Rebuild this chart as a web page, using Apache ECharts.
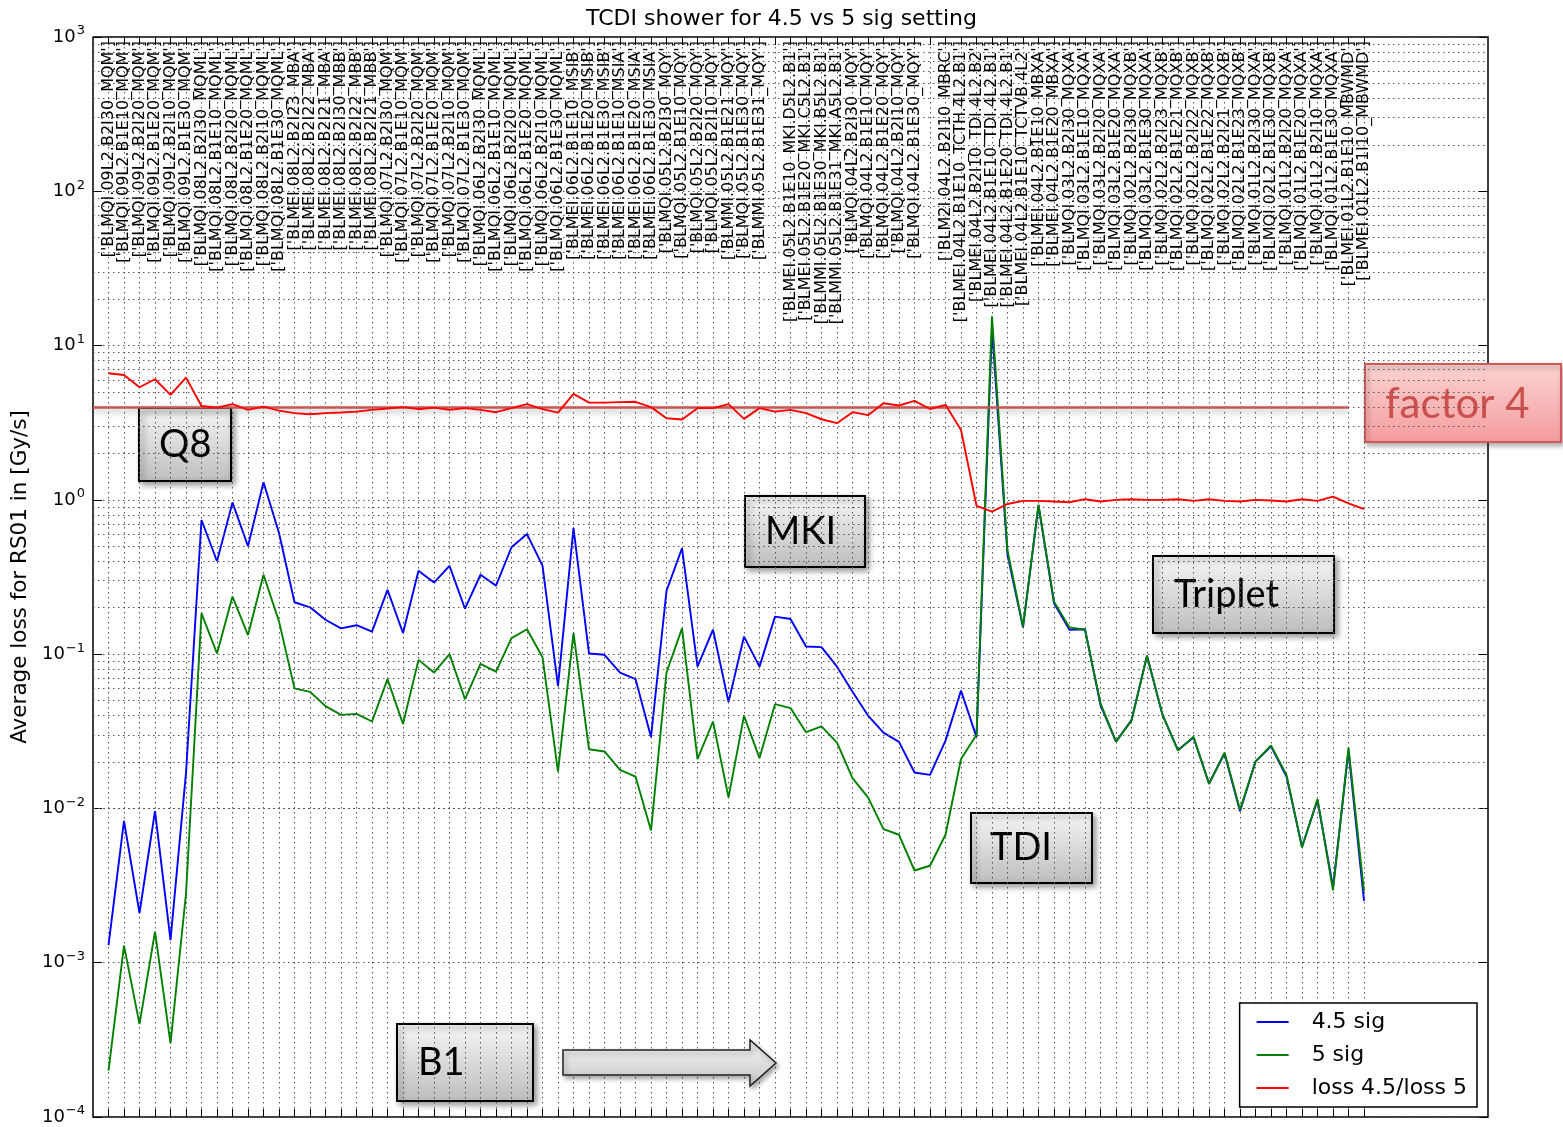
<!DOCTYPE html>
<html>
<head>
<meta charset="utf-8">
<title>TCDI shower for 4.5 vs 5 sig setting</title>
<script src="https://cdn.jsdelivr.net/npm/echarts@6/dist/echarts.min.js"></script>
<style>
  html, body { margin: 0; padding: 0; background: #fff; }
  #chart-container { width: 1563px; height: 1127px; }
</style>
</head>
<body>
<div id="chart-container"></div>
<script>
// monitor names along the beam line (two slots have no name)
var categories = [
  "BLMQI.09L2.B2I30_MQM", "BLMQI.09L2.B1E10_MQM", "BLMQI.09L2.B2I20_MQM", "BLMQI.09L2.B1E20_MQM",
  "BLMQI.09L2.B2I10_MQM", "BLMQI.09L2.B1E30_MQM", "BLMQI.08L2.B2I30_MQML", "BLMQI.08L2.B1E10_MQML",
  "BLMQI.08L2.B2I20_MQML", "BLMQI.08L2.B1E20_MQML", "BLMQI.08L2.B2I10_MQML", "BLMQI.08L2.B1E30_MQML",
  "BLMEI.08L2.B2I23_MBA", "BLMEI.08L2.B2I22_MBA", "BLMEI.08L2.B2I21_MBA", "BLMEI.08L2.B2I30_MBB",
  "BLMEI.08L2.B2I22_MBB", "BLMEI.08L2.B2I21_MBB", "BLMQI.07L2.B2I30_MQM", "BLMQI.07L2.B1E10_MQM",
  "BLMQI.07L2.B2I20_MQM", "BLMQI.07L2.B1E20_MQM", "BLMQI.07L2.B2I10_MQM", "BLMQI.07L2.B1E30_MQM",
  "BLMQI.06L2.B2I30_MQML", "BLMQI.06L2.B1E10_MQML", "BLMQI.06L2.B2I20_MQML", "BLMQI.06L2.B1E20_MQML",
  "BLMQI.06L2.B2I10_MQML", "BLMQI.06L2.B1E30_MQML", "BLMEI.06L2.B1E10_MSIB", "BLMEI.06L2.B1E20_MSIB",
  "BLMEI.06L2.B1E30_MSIB", "BLMEI.06L2.B1E10_MSIA", "BLMEI.06L2.B1E20_MSIA", "BLMEI.06L2.B1E30_MSIA",
  "BLMQI.05L2.B2I30_MQY", "BLMQI.05L2.B1E10_MQY", "BLMQI.05L2.B2I20_MQY", "BLMQI.05L2.B2I10_MQY",
  "BLMMI.05L2.B1E21_MQY", "BLMQI.05L2.B1E30_MQY", "BLMMI.05L2.B1E31_MQY", "",
  "BLMEI.05L2.B1E10_MKI.D5L2.B1", "BLMEI.05L2.B1E20_MKI.C5L2.B1", "BLMMI.05L2.B1E30_MKI.B5L2.B1", "BLMMI.05L2.B1E31_MKI.A5L2.B1",
  "BLMQI.04L2.B2I30_MQY", "BLMQI.04L2.B1E10_MQY", "BLMQI.04L2.B1E20_MQY", "BLMQI.04L2.B2I10_MQY",
  "BLMQI.04L2.B1E30_MQY", "", "BLM2I.04L2.B2I10_MBRC", "BLMEI.04L2.B1E10_TCTH.4L2.B1",
  "BLMEI.04L2.B2I10_TDI.4L2.B2", "BLMEI.04L2.B1E10_TDI.4L2.B1", "BLMEI.04L2.B1E20_TDI.4L2.B1", "BLMEI.04L2.B1E10_TCTVB.4L2",
  "BLMEI.04L2.B1E10_MBXA", "BLMEI.04L2.B1E20_MBXA", "BLMQI.03L2.B2I30_MQXA", "BLMQI.03L2.B1E10_MQXA",
  "BLMQI.03L2.B2I20_MQXA", "BLMQI.03L2.B1E20_MQXA", "BLMQI.02L2.B2I30_MQXB", "BLMQI.03L2.B1E30_MQXA",
  "BLMQI.02L2.B2I23_MQXB", "BLMQI.02L2.B1E21_MQXB", "BLMQI.02L2.B2I22_MQXB", "BLMQI.02L2.B1E22_MQXB",
  "BLMQI.02L2.B2I21_MQXB", "BLMQI.02L2.B1E23_MQXB", "BLMQI.01L2.B2I30_MQXA", "BLMQI.02L2.B1E30_MQXB",
  "BLMQI.01L2.B2I20_MQXA", "BLMQI.01L2.B1E20_MQXA", "BLMQI.01L2.B2I10_MQXA", "BLMQI.01L2.B1E30_MQXA",
  "BLMEI.01L2.B1E10_MBWMD", "BLMEI.01L2.B1I10_MBWMD"
];

var sig45 = [
  1.3e-3, 8.3e-3, 2.1e-3, 9.6e-3, 1.4e-3, 0.017, 0.74, 0.40, 0.96, 0.50,
  1.30, 0.61, 0.217, 0.201, 0.167, 0.147, 0.154, 0.140, 0.261, 0.137,
  0.347, 0.291, 0.373, 0.197, 0.327, 0.278, 0.493, 0.60, 0.375, 0.062,
  0.655, 0.101, 0.099, 0.076, 0.069, 0.029, 0.257, 0.486, 0.083, 0.144,
  0.049, 0.130, 0.083, 0.175, 0.169, 0.112, 0.111, 0.083, 0.057, 0.040,
  0.031, 0.027, 0.0171, 0.0165, 0.0275, 0.058, 0.029, 13.0, 0.44, 0.149,
  0.916, 0.214, 0.144, 0.145, 0.0468, 0.0271, 0.0374, 0.0975, 0.0404, 0.0239,
  0.0288, 0.0145, 0.0227, 0.0096, 0.0201, 0.0253, 0.0161, 0.00564, 0.0113, 0.00309,
  0.0236, 0.00252
];

var sig5 = [
  2.0e-4, 1.29e-3, 4.0e-4, 1.59e-3, 3.0e-4, 2.8e-3, 0.184, 0.101, 0.236, 0.133,
  0.327, 0.163, 0.060, 0.057, 0.046, 0.0404, 0.041, 0.0366, 0.0688, 0.0353,
  0.0918, 0.076, 0.100, 0.051, 0.0865, 0.077, 0.127, 0.145, 0.0955, 0.0173,
  0.137, 0.0242, 0.0234, 0.0178, 0.0161, 0.0072, 0.076, 0.147, 0.0209, 0.0366,
  0.0118, 0.0398, 0.0212, 0.0474, 0.0447, 0.0312, 0.034, 0.0267, 0.0157, 0.0118,
  0.00734, 0.00675, 0.00396, 0.00425, 0.00675, 0.0209, 0.030, 15.5, 0.47, 0.151,
  0.93, 0.219, 0.149, 0.144, 0.048, 0.0271, 0.037, 0.0975, 0.0404, 0.0237,
  0.0292, 0.0144, 0.023, 0.0098, 0.0201, 0.0256, 0.0165, 0.00558, 0.0115, 0.00294,
  0.0248, 0.0029
];

var ratio = [
  6.62, 6.45, 5.37, 6.05, 4.79, 6.2, 4.06, 3.96, 4.17, 3.83,
  4.02, 3.79, 3.65, 3.59, 3.65, 3.68, 3.73, 3.83, 3.91, 3.99,
  3.87, 3.96, 3.83, 3.93, 3.83, 3.70, 3.93, 4.17, 3.87, 3.68,
  4.86, 4.27, 4.27, 4.30, 4.32, 3.99, 3.38, 3.32, 3.93, 3.93,
  4.17, 3.35, 3.93, 3.73, 3.83, 3.65, 3.33, 3.14, 3.70, 3.54,
  4.23, 4.09, 4.38, 3.88, 4.13, 2.84, 0.915, 0.84, 0.94, 0.985,
  0.985, 0.975, 0.965, 1.01, 0.975, 1.0, 1.01, 1.0, 1.0, 1.01,
  0.985, 1.01, 0.985, 0.975, 1.0, 0.99, 0.975, 1.01, 0.985, 1.05,
  0.95, 0.87
];

var yMin = 1e-4, yMax = 1e3;
var factorLevel = 4;

var dom = document.getElementById("chart-container");
var myChart = echarts.init(dom, null, { renderer: "canvas" });

// one empty slot before the first monitor and some after the last one
var padLeft = 1, padRight = 8;
var axisData = [""].concat(categories, new Array(padRight).fill(""));
function padded(arr) { return [null].concat(arr); }
function isReal(idx) { return idx >= padLeft && idx < padLeft + categories.length; }

var minorLevels = [];
for (var e = -4; e < 3; e++) {
  for (var k = 2; k <= 9; k++) minorLevels.push(k * Math.pow(10, e));
}

var gridStyle = { color: "#555", width: 1, type: [1.5, 3.5] };
var font = "'DejaVu Sans', sans-serif";
var boxFont = "Lato, 'Open Sans', sans-serif";

var grayFill = new echarts.graphic.LinearGradient(0, 0, 0, 1, [
  { offset: 0, color: "#f6f6f6" }, { offset: 1, color: "#bdbdbd" }
]);

function labelBox(x, y, w, h, text, textX) {
  return {
    type: "group", x: x, y: y, z: 100,
    children: [
      {
        type: "rect", shape: { x: 0, y: 0, width: w, height: h },
        style: {
          fill: grayFill, stroke: "#000", lineWidth: 2,
          shadowBlur: 6, shadowOffsetX: 3, shadowOffsetY: 3, shadowColor: "rgba(0,0,0,0.4)"
        }
      },
      {
        type: "text", x: textX, y: h / 2,
        style: { text: text, font: "38px " + boxFont, fill: "#000", verticalAlign: "middle", textAlign: "left" }
      }
    ]
  };
}

var option = {
  animation: false,
  title: {
    text: "TCDI shower for 4.5 vs 5 sig setting",
    left: "center", top: 3,
    textStyle: { fontFamily: font, fontSize: 22, fontWeight: "normal", color: "#000" }
  },
  grid: {
    left: 93, right: 75, top: 37, bottom: 10,
    show: true, borderColor: "#000", borderWidth: 1.5, backgroundColor: "transparent"
  },
  legend: {
    data: ["4.5 sig", "5 sig", "loss 4.5/loss 5"],
    orient: "vertical", right: 86, bottom: 20,
    backgroundColor: "#fff", borderColor: "#000", borderWidth: 1.5, borderRadius: 0,
    padding: [7, 10, 7, 17], itemGap: 9, itemWidth: 32, itemHeight: 2, icon: "rect",
    textStyle: { fontFamily: font, fontSize: 22, color: "#000", lineHeight: 24, padding: [0, 0, 0, 18] }
  },
  xAxis: [
    {
      type: "category", data: axisData, boundaryGap: false, position: "bottom",
      axisLine: { show: false },
      axisLabel: { show: false },
      axisTick: { show: true, inside: true, length: 8, interval: isReal, lineStyle: { color: "#000" } },
      splitLine: { show: true, interval: isReal, lineStyle: gridStyle }
    },
    {
      type: "category", data: axisData, boundaryGap: false, position: "top",
      axisLine: { show: false },
      axisTick: { show: true, inside: true, length: 8, interval: isReal, lineStyle: { color: "#000" } },
      axisLabel: {
        show: true, inside: true, rotate: -90, interval: 0, margin: 4,
        fontFamily: font, fontSize: 16, color: "#000",
        formatter: function (v) { return v ? "['" + v + "']" : ""; }
      },
      splitLine: { show: false }
    }
  ],
  yAxis: [
    {
      type: "log", logBase: 10, min: yMin, max: yMax, splitNumber: 7, position: "left",
      name: "Average loss for RS01 in [Gy/s]", nameLocation: "middle", nameGap: 58,
      nameTextStyle: { fontFamily: font, fontSize: 21.5, color: "#000" },
      axisLine: { show: false },
      axisTick: { show: true, inside: true, length: 9, lineStyle: { color: "#000" } },
      splitLine: { show: true, lineStyle: gridStyle },
      axisLabel: {
        margin: 8,
        formatter: function (v) {
          var ex = Math.round(Math.log10(v));
          return "{b|10}{e|" + (ex < 0 ? "\u2212" + (-ex) : ex) + "}";
        },
        rich: {
          b: { fontFamily: font, fontSize: 18, color: "#000" },
          e: { fontFamily: font, fontSize: 13, color: "#000", padding: [0, 0, 12, 1] }
        }
      }
    },
    {
      type: "log", logBase: 10, min: yMin, max: yMax, splitNumber: 7, position: "right",
      axisLine: { show: false },
      axisLabel: { show: false },
      axisTick: { show: true, inside: true, length: 9, lineStyle: { color: "#000" } },
      splitLine: { show: false }
    }
  ],
  series: [
    {
      name: "minor grid", type: "line", data: [], z: 1, silent: true,
      markLine: {
        silent: true, symbol: ["none", "none"], label: { show: false },
        lineStyle: gridStyle,
        data: minorLevels.map(function (v) { return { yAxis: v }; })
      }
    },
    {
      name: "4.5 sig", type: "line", data: padded(sig45), symbol: "none", z: 3,
      lineStyle: { color: "#0000ff", width: 1.9 }, itemStyle: { color: "#0000ff" }
    },
    {
      name: "5 sig", type: "line", data: padded(sig5), symbol: "none", z: 4,
      lineStyle: { color: "#008000", width: 1.9 }, itemStyle: { color: "#008000" }
    },
    {
      name: "loss 4.5/loss 5", type: "line", data: padded(ratio), symbol: "none", z: 5,
      lineStyle: { color: "#ff0000", width: 1.9 }, itemStyle: { color: "#ff0000" },
      markLine: {
        silent: true, symbol: ["none", "none"], label: { show: false },
        lineStyle: {
          color: "#c85555", width: 2.5, type: "solid",
          shadowBlur: 6, shadowOffsetY: 3, shadowColor: "rgba(0,0,0,0.35)"
        },
        data: [[{ coord: [0, factorLevel] }, { coord: [81, factorLevel] }]]
      }
    }
  ],
  graphic: [
    {
      type: "group", x: 1365, y: 364, z: 100,
      children: [
        {
          type: "rect", shape: { x: 0, y: 0, width: 196, height: 78 },
          style: {
            fill: new echarts.graphic.LinearGradient(0, 0, 0, 1, [
              { offset: 0, color: "#fbd3d3" }, { offset: 1, color: "#f49c9c" }
            ]),
            stroke: "#d05a5a", lineWidth: 2,
            shadowBlur: 5, shadowOffsetX: 2, shadowOffsetY: 3, shadowColor: "rgba(0,0,0,0.3)"
          }
        },
        {
          type: "text", x: 20, y: 40,
          style: { text: "factor 4", font: "42px " + boxFont, fill: "#c9504d", verticalAlign: "middle", textAlign: "left" }
        }
      ]
    },
    labelBox(139, 408, 92, 73, "Q8", 20),
    labelBox(745, 496, 120, 71, "MKI", 20),
    labelBox(1153, 556, 181, 77, "Triplet", 21),
    labelBox(971, 813, 121, 70, "TDI", 19),
    labelBox(397, 1024, 136, 77, "B1", 21),
    {
      type: "polygon", z: 100,
      shape: { points: [[563, 1050], [750, 1050], [750, 1040], [776, 1063], [750, 1086], [750, 1075], [563, 1075]] },
      style: {
        fill: new echarts.graphic.LinearGradient(0, 0, 0, 1, [
          { offset: 0, color: "#f6f6f6" }, { offset: 1, color: "#c8c8c8" }
        ]),
        stroke: "#222", lineWidth: 1.5,
        shadowBlur: 5, shadowOffsetX: 2, shadowOffsetY: 3, shadowColor: "rgba(0,0,0,0.35)"
      }
    }
  ]
};

myChart.setOption(option);
window.addEventListener("resize", myChart.resize);
</script>
</body>
</html>
